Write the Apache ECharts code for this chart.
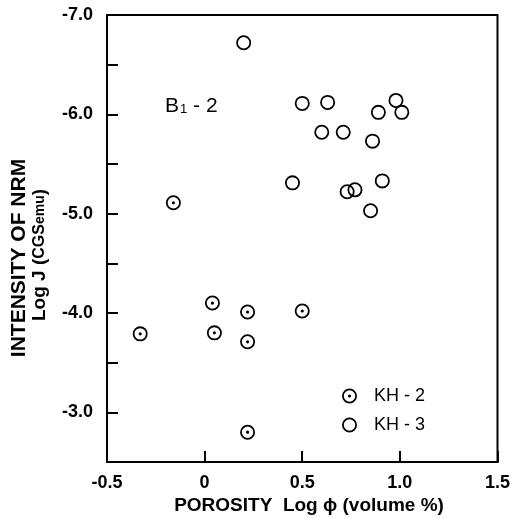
<!DOCTYPE html>
<html>
<head>
<meta charset="utf-8">
<script src="https://cdn.jsdelivr.net/npm/echarts@6/dist/echarts.min.js"></script>
<style>
html,body{margin:0;padding:0;background:#fff;}
#chart{width:513px;height:519px;}
</style>
</head>
<body>
<div id="chart"></div>
<script>
// Data (x = Log porosity, y = Log J)
var kh2X = [-0.16, -0.33, 0.04, 0.05, 0.22, 0.22, 0.22, 0.50];
var kh2Y = [-5.11, -3.79, -4.10, -3.80, -4.01, -3.71, -2.80, -4.02];
var kh3X = [0.20, 0.50, 0.63, 0.89, 0.98, 1.01, 0.60, 0.71, 0.86, 0.45, 0.91, 0.77, 0.73, 0.85];
var kh3Y = [-6.72, -6.11, -6.12, -6.02, -6.14, -6.02, -5.82, -5.82, -5.73, -5.31, -5.33, -5.24, -5.22, -5.03];
var seriesNames = ['KH - 2', 'KH - 3'];
var xTicks = [-0.5, 0, 0.5, 1.0, 1.5];
var yTicks = [-7, -6, -5, -4, -3];

var ring = 'M0 8A8 8 0 1 1 16 8A8 8 0 1 1 0 8ZM1.9 8A6.1 6.1 0 1 0 14.1 8A6.1 6.1 0 1 0 1.9 8Z';
var dotRing = ring + 'M6.3 8A1.7 1.7 0 1 1 9.7 8A1.7 1.7 0 1 1 6.3 8Z';

function pairs(xs, ys){ return xs.map(function(x,i){ return [x, ys[i]]; }); }

var FONT = '"Liberation Sans", Arial, sans-serif';
var chart = echarts.init(document.getElementById('chart'), null, {renderer:'canvas'});
chart.setOption({
  animation: false,
  backgroundColor: '#fff',
  grid: {left:107, right:13, top:15, bottom:57, show:true, borderColor:'#000', borderWidth:2, backgroundColor:'transparent'},
  xAxis: {
    type:'value', min:xTicks[0], max:xTicks[xTicks.length-1], interval:0.5,
    axisLine:{onZero:false, lineStyle:{color:'#000', width:2}},
    axisTick:{inside:true, length:11, lineStyle:{color:'#000', width:2}},
    splitLine:{show:false},
    axisLabel:{color:'#000', fontFamily:FONT, fontWeight:'bold', fontSize:18, margin:12,
      formatter:function(v){ return v===0 ? '0' : v.toFixed(1); }}
  },
  yAxis: {
    type:'value', inverse:true, min:yTicks[0], max:-2.5, interval:0.5,
    axisLine:{onZero:false, lineStyle:{color:'#000', width:2}},
    axisTick:{inside:true, length:11, lineStyle:{color:'#000', width:2}},
    splitLine:{show:false},
    axisLabel:{color:'#000', fontFamily:FONT, fontWeight:'bold', fontSize:18, margin:14,
      formatter:function(v){ return yTicks.indexOf(v) >= 0 ? v.toFixed(1) : ''; }}
  },
  legend: {
    orient:'vertical', left:337, top:382, itemWidth:15, itemHeight:15, itemGap:11,
    selectedMode:false,
    textStyle:{color:'#000', fontFamily:FONT, fontSize:18, padding:[0,0,0,12]},
    data:[{name:seriesNames[0], icon:'path://'+dotRing}, {name:seriesNames[1], icon:'path://'+ring}]
  },
  graphic: [
    {type:'text', left:165, top:96, style:{
      text:'{a|B}{b|1}{a| - 2}', fill:'#000',
      rich:{a:{fontFamily:FONT, fontSize:21, fill:'#000'}, b:{fontFamily:FONT, fontSize:13, fill:'#000', padding:[5,0,0,1]}}
    }},
    {type:'text', x:19, y:258, rotation:Math.PI/2, style:{
      text:'INTENSITY OF NRM', fill:'#000', fontFamily:FONT, fontWeight:'bold', fontSize:21,
      align:'center', verticalAlign:'middle'
    }},
    {type:'text', x:40, y:255, rotation:Math.PI/2, style:{
      text:'{a|Log J (}{b|CGS}{c|emu}{a|)}', fill:'#000', align:'center', verticalAlign:'middle',
      rich:{a:{fontFamily:FONT, fontWeight:'bold', fontSize:19, fill:'#000'},
            b:{fontFamily:FONT, fontWeight:'bold', fontSize:16, fill:'#000'},
            c:{fontFamily:FONT, fontWeight:'bold', fontSize:14, fill:'#000'}}
    }},
    {type:'text', x:309, y:506, style:{
      text:'POROSITY  Log \u03D5 (volume %)', fill:'#000', fontFamily:FONT, fontWeight:'bold', fontSize:19,
      align:'center', verticalAlign:'middle'
    }}
  ],
  series: [
    {name:seriesNames[0], type:'scatter', data:pairs(kh2X, kh2Y), symbol:'path://'+dotRing, symbolSize:15,
     itemStyle:{color:'#000', opacity:1}, emphasis:{disabled:true}},
    {name:seriesNames[1], type:'scatter', data:pairs(kh3X, kh3Y), symbol:'path://'+ring, symbolSize:15,
     itemStyle:{color:'#000', opacity:1}, emphasis:{disabled:true}}
  ]
});
</script>
</body>
</html>
